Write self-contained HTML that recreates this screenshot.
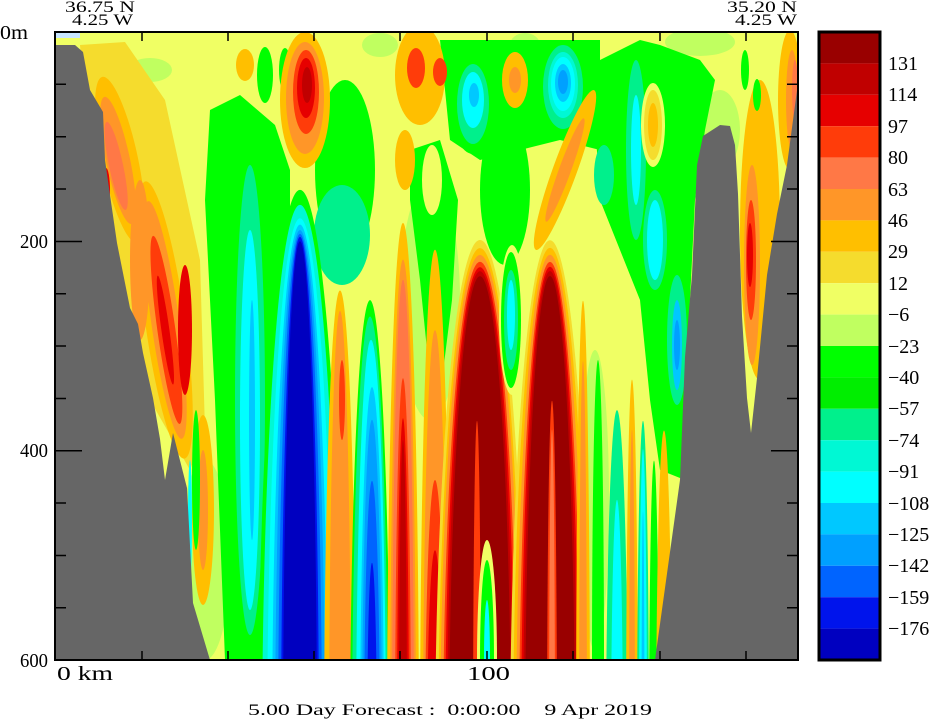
<!DOCTYPE html>
<html><head><meta charset="utf-8"><style>
html,body{margin:0;padding:0;background:#fff;width:943px;height:721px;overflow:hidden;}
#wrap{position:relative;width:943px;height:721px;overflow:hidden;}
svg{display:block;}
text{font-family:"Liberation Serif",serif;fill:#000;}
</style></head><body><div id="wrap">
<svg width="943" height="721" viewBox="0 0 943 721" xmlns="http://www.w3.org/2000/svg" overflow="hidden">
<svg id="plot" x="55" y="32" width="743" height="628" viewBox="55 32 743 628" overflow="hidden">
<rect x="55" y="32" width="743" height="628" fill="#f0ff64"/>
<g fill="#c0ff60">
<ellipse cx="150" cy="70" rx="22" ry="12"/><ellipse cx="380" cy="45" rx="18" ry="12"/>
<ellipse cx="700" cy="42" rx="35" ry="14"/><ellipse cx="525" cy="45" rx="15" ry="12"/>
<ellipse cx="205" cy="560" rx="25" ry="100"/><ellipse cx="595" cy="500" rx="14" ry="150"/>
<ellipse cx="430" cy="300" rx="30" ry="120"/><ellipse cx="720" cy="130" rx="20" ry="40"/>
</g>
<polygon points="80,45 125,42 165,100 200,260 205,430 190,470 150,400 110,250 85,100" fill="#f5dc2d"/>
<g transform="rotate(-12 120 160)"><ellipse cx="120" cy="160" rx="18" ry="85" fill="#ffbf00"/><ellipse cx="118" cy="160" rx="12" ry="65" fill="#ff9628"/><ellipse cx="115" cy="165" rx="7" ry="45" fill="#ff7846"/></g>
<ellipse cx="106" cy="190" rx="4" ry="22" fill="#e60000"/>
<g transform="rotate(-8 165 320)"><ellipse cx="165" cy="320" rx="20" ry="140" fill="#ffbf00"/><ellipse cx="165" cy="320" rx="14" ry="120" fill="#ff9628"/><ellipse cx="165" cy="330" rx="9" ry="95" fill="#ff3c0a"/><ellipse cx="164" cy="330" rx="4" ry="55" fill="#e60000"/></g>
<ellipse cx="140" cy="260" rx="10" ry="80" fill="#ff9628"/>
<ellipse cx="185" cy="330" rx="7" ry="65" fill="#e60000"/>
<ellipse cx="203" cy="510" rx="11" ry="95" fill="#ffbf00"/><ellipse cx="203" cy="510" rx="5" ry="60" fill="#ff9628"/>
<ellipse cx="196" cy="480" rx="4" ry="70" fill="#00ff00"/><ellipse cx="190" cy="520" rx="2" ry="60" fill="#00ffff"/>
<polygon points="210,110 240,95 275,125 290,170 290,660 225,660 215,400 205,200" fill="#00ff00"/>
<ellipse cx="250" cy="400" rx="15" ry="235" fill="#00f08c"/>
<ellipse cx="250" cy="420" rx="10" ry="190" fill="#00ffff"/>
<ellipse cx="252" cy="420" rx="3" ry="120" fill="#00c8ff"/>
<ellipse cx="245" cy="65" rx="9" ry="16" fill="#ffbf00"/>
<g fill="#00ff00"><ellipse cx="265" cy="75" rx="8" ry="28"/><ellipse cx="285" cy="70" rx="6" ry="22"/></g>
<ellipse cx="345" cy="170" rx="30" ry="90" fill="#00ff00"/>
<ellipse cx="342" cy="235" rx="28" ry="50" fill="#00f08c"/>
<ellipse cx="305" cy="100" rx="25" ry="68" fill="#ffbf00"/>
<ellipse cx="305" cy="98" rx="19" ry="56" fill="#ff9628"/>
<ellipse cx="306" cy="92" rx="13" ry="42" fill="#ff3c0a"/>
<ellipse cx="306" cy="88" rx="9" ry="30" fill="#e60000"/>
<ellipse cx="307" cy="85" rx="5" ry="18" fill="#c00000"/>
<ellipse cx="300" cy="760" rx="42" ry="570" fill="#00ff00"/>
<ellipse cx="300" cy="760" rx="38" ry="555" fill="#00f8d4"/>
<ellipse cx="300" cy="760" rx="33" ry="542" fill="#00ffff"/>
<ellipse cx="300" cy="760" rx="28" ry="535" fill="#00c8ff"/>
<ellipse cx="300" cy="760" rx="25" ry="530" fill="#00a0ff"/>
<ellipse cx="300" cy="760" rx="22" ry="526" fill="#0064ff"/>
<ellipse cx="300" cy="760" rx="19" ry="523" fill="#0014ec"/>
<ellipse cx="300" cy="760" rx="17" ry="519" fill="#0000c0"/>
<ellipse cx="340" cy="760" rx="16" ry="470" fill="#ffbf00"/>
<ellipse cx="340" cy="760" rx="11" ry="450" fill="#ff9628"/>
<ellipse cx="342" cy="400" rx="3" ry="40" fill="#ff3c0a"/>
<ellipse cx="370" cy="760" rx="20" ry="460" fill="#00ff00"/>
<ellipse cx="370" cy="760" rx="18" ry="443" fill="#00f08c"/>
<ellipse cx="371" cy="760" rx="15" ry="420" fill="#00ffff"/>
<ellipse cx="372" cy="760" rx="12" ry="373" fill="#00c8ff"/>
<ellipse cx="372" cy="760" rx="10" ry="340" fill="#00a0ff"/>
<ellipse cx="372" cy="760" rx="8" ry="279" fill="#0064ff"/>
<ellipse cx="372" cy="760" rx="5" ry="197" fill="#0014ec"/>
<ellipse cx="403" cy="760" rx="16" ry="537" fill="#ffbf00"/>
<ellipse cx="403" cy="760" rx="13" ry="500" fill="#ff9628"/>
<ellipse cx="403" cy="760" rx="11" ry="480" fill="#ff7846"/>
<ellipse cx="403" cy="760" rx="8" ry="382" fill="#ff3c0a"/>
<ellipse cx="403" cy="760" rx="6" ry="341" fill="#e60000"/>
<ellipse cx="403" cy="760" rx="4" ry="320" fill="#c00000"/>
<polygon points="410,150 440,140 458,200 452,300 442,380 430,380 420,280 410,200" fill="#00ff00"/>
<ellipse cx="505" cy="190" rx="25" ry="75" fill="#00ff00"/>
<polygon points="440,40 600,40 600,150 560,140 520,150 480,160 450,140" fill="#00ff00"/>
<ellipse cx="420" cy="75" rx="25" ry="50" fill="#ffbf00"/>
<ellipse cx="416" cy="68" rx="9" ry="20" fill="#ff3c0a"/>
<ellipse cx="440" cy="72" rx="7" ry="14" fill="#ff3c0a"/>
<ellipse cx="515" cy="80" rx="13" ry="28" fill="#ffbf00"/><ellipse cx="515" cy="80" rx="6" ry="13" fill="#ff9628"/>
<ellipse cx="405" cy="160" rx="10" ry="30" fill="#ffbf00"/>
<ellipse cx="473" cy="104" rx="22" ry="50" fill="#00ff00"/>
<ellipse cx="473" cy="104" rx="16" ry="40" fill="#00f08c"/>
<ellipse cx="473" cy="100" rx="11" ry="28" fill="#00ffff"/>
<ellipse cx="474" cy="95" rx="5" ry="12" fill="#00c8ff"/>
<ellipse cx="563" cy="87" rx="20" ry="42" fill="#00f08c"/>
<ellipse cx="563" cy="85" rx="15" ry="33" fill="#00f8d4"/>
<ellipse cx="563" cy="84" rx="12" ry="27" fill="#00ffff"/>
<ellipse cx="563" cy="83" rx="8" ry="19" fill="#00c8ff"/>
<ellipse cx="563" cy="82" rx="5" ry="12" fill="#00a0ff"/>
<g transform="rotate(20 565 170)"><ellipse cx="565" cy="170" rx="12" ry="85" fill="#ffbf00"/><ellipse cx="565" cy="170" rx="6" ry="55" fill="#ff9628"/></g>
<ellipse cx="432" cy="180" rx="10" ry="35" fill="#f0ff64"/>
<ellipse cx="435" cy="760" rx="15" ry="510" fill="#ffbf00"/>
<ellipse cx="435" cy="760" rx="12" ry="430" fill="#ff9628"/>
<ellipse cx="435" cy="760" rx="10" ry="280" fill="#ff3c0a"/>
<ellipse cx="435" cy="760" rx="8" ry="210" fill="#e60000"/>
<ellipse cx="480" cy="760" rx="45" ry="520" fill="#f5dc2d"/>
<ellipse cx="480" cy="760" rx="42" ry="512" fill="#ffbf00"/>
<ellipse cx="480" cy="760" rx="40" ry="505" fill="#ff9628"/>
<ellipse cx="480" cy="760" rx="37" ry="498" fill="#ff3c0a"/>
<ellipse cx="480" cy="760" rx="35" ry="493" fill="#e60000"/>
<ellipse cx="480" cy="760" rx="33" ry="489" fill="#c00000"/>
<ellipse cx="480" cy="760" rx="31" ry="484" fill="#990000"/>
<ellipse cx="477" cy="760" rx="4" ry="340" fill="#ff3c0a"/>
<ellipse cx="550" cy="760" rx="40" ry="520" fill="#f5dc2d"/>
<ellipse cx="550" cy="760" rx="37" ry="512" fill="#ffbf00"/>
<ellipse cx="550" cy="760" rx="34" ry="505" fill="#ff9628"/>
<ellipse cx="550" cy="760" rx="31" ry="498" fill="#ff3c0a"/>
<ellipse cx="550" cy="760" rx="29" ry="493" fill="#e60000"/>
<ellipse cx="550" cy="760" rx="27" ry="489" fill="#c00000"/>
<ellipse cx="550" cy="760" rx="25" ry="484" fill="#990000"/>
<ellipse cx="552" cy="760" rx="5" ry="360" fill="#ff3c0a"/>
<ellipse cx="552" cy="760" rx="3" ry="330" fill="#ff7846"/>
<ellipse cx="512" cy="320" rx="13" ry="75" fill="#f0ff64"/>
<ellipse cx="511" cy="320" rx="10" ry="68" fill="#00ff00"/>
<ellipse cx="511" cy="320" rx="7" ry="50" fill="#00f08c"/>
<ellipse cx="511" cy="315" rx="4" ry="35" fill="#00ffff"/>
<ellipse cx="487" cy="660" rx="10" ry="120" fill="#f0ff64"/>
<ellipse cx="487" cy="660" rx="7" ry="100" fill="#00ff00"/>
<ellipse cx="487" cy="660" rx="3" ry="60" fill="#00ffff"/>
<ellipse cx="583" cy="760" rx="7" ry="460" fill="#ffbf00"/>
<ellipse cx="583" cy="760" rx="4" ry="400" fill="#ff9628"/>
<polygon points="600,60 640,40 660,45 700,60 715,80 705,130 695,200 690,300 685,480 660,470 650,400 640,300 600,200 595,120" fill="#00ff00"/>
<ellipse cx="598" cy="660" rx="6" ry="300" fill="#00ff00"/>
<ellipse cx="604" cy="175" rx="10" ry="30" fill="#00f08c"/>
<ellipse cx="636" cy="150" rx="10" ry="90" fill="#00f08c"/>
<ellipse cx="636" cy="150" rx="5" ry="55" fill="#00ffff"/>
<ellipse cx="653" cy="125" rx="12" ry="42" fill="#f0ff64"/>
<ellipse cx="653" cy="125" rx="9" ry="35" fill="#f5dc2d"/>
<ellipse cx="653" cy="125" rx="5" ry="22" fill="#ffbf00"/>
<ellipse cx="655" cy="240" rx="12" ry="50" fill="#00f08c"/>
<ellipse cx="655" cy="240" rx="8" ry="40" fill="#00ffff"/>
<ellipse cx="677" cy="340" rx="10" ry="65" fill="#00f08c"/>
<ellipse cx="677" cy="345" rx="5" ry="45" fill="#00c8ff"/>
<ellipse cx="677" cy="345" rx="3" ry="25" fill="#00a0ff"/>
<ellipse cx="617" cy="760" rx="11" ry="350" fill="#00f08c"/>
<ellipse cx="617" cy="760" rx="6" ry="260" fill="#00ffff"/>
<ellipse cx="632" cy="760" rx="6" ry="380" fill="#ffbf00"/>
<ellipse cx="632" cy="760" rx="3" ry="330" fill="#ff9628"/>
<ellipse cx="643" cy="760" rx="6" ry="340" fill="#00f08c"/>
<ellipse cx="643" cy="760" rx="4" ry="310" fill="#00ffff"/>
<ellipse cx="643" cy="760" rx="1.5" ry="250" fill="#00c8ff"/>
<ellipse cx="654" cy="760" rx="5" ry="300" fill="#00ff00"/>
<ellipse cx="664" cy="760" rx="8" ry="330" fill="#ffbf00"/>
<ellipse cx="760" cy="230" rx="20" ry="150" fill="#ffbf00"/>
<ellipse cx="752" cy="265" rx="8" ry="100" fill="#ff9628"/>
<ellipse cx="751" cy="260" rx="5" ry="60" fill="#ff3c0a"/>
<ellipse cx="750" cy="255" rx="3" ry="32" fill="#e60000"/>
<ellipse cx="790" cy="100" rx="12" ry="70" fill="#ffbf00"/>
<ellipse cx="792" cy="100" rx="6" ry="50" fill="#ff9628"/>
<ellipse cx="795" cy="90" rx="3" ry="30" fill="#ff7846"/>
<ellipse cx="745" cy="70" rx="4" ry="20" fill="#00ff00"/>
<ellipse cx="757" cy="95" rx="4" ry="16" fill="#00ff00"/>
<rect x="55" y="33" width="25" height="5" fill="#c8e6ff"/>
<polygon points="55,45 75,45 83,52 90,90 103,112 105,160 110,195 117,243 125,283 130,308 138,324 143,353 153,398 160,439 165,480 173,433 187,488 193,603 210,660 55,660" fill="#666666"/>
<polygon points="655,660 680,480 685,357 692,275 697,165 703,136 720,125 730,126 735,145 738,194 742,316 747,398 751,433 757,378 767,275 777,214 787,165 798,83 798,660" fill="#666666"/>
</svg>
<rect x="55" y="32" width="743" height="628" fill="none" stroke="#000" stroke-width="2"/>
<g stroke="#000" stroke-width="1.5">
<path d="M142,32v9M228,32v9M314,32v9M400,32v9M487,32v9M573,32v9M660,32v9M746,32v9"/>
<path d="M142,660v-9M228,660v-9M314,660v-9M400,660v-9M487,660v-9M573,660v-9M660,660v-9M746,660v-9"/>
<path d="M55,84.3h11M55,136.7h11M55,189h11M55,241.5h27M55,293.8h11M55,346h11M55,398.5h11M55,450.8h27M55,503h11M55,555.5h11M55,607.8h11"/>
<path d="M798,84.3h-11M798,136.7h-11M798,189h-11M798,241.5h-27M798,293.8h-11M798,346h-11M798,398.5h-11M798,450.8h-27M798,503h-11M798,555.5h-11M798,607.8h-11"/>
</g>
<g>
<rect x="819" y="32" width="61" height="31.4" fill="#990000"/>
<rect x="819" y="63.4" width="61" height="31.4" fill="#c00000"/>
<rect x="819" y="94.8" width="61" height="31.4" fill="#e60000"/>
<rect x="819" y="126.2" width="61" height="31.4" fill="#ff3c0a"/>
<rect x="819" y="157.6" width="61" height="31.4" fill="#ff7846"/>
<rect x="819" y="189" width="61" height="31.4" fill="#ff9628"/>
<rect x="819" y="220.4" width="61" height="31.4" fill="#ffbf00"/>
<rect x="819" y="251.8" width="61" height="31.4" fill="#f5dc2d"/>
<rect x="819" y="283.2" width="61" height="31.4" fill="#f0ff64"/>
<rect x="819" y="314.6" width="61" height="31.4" fill="#c0ff60"/>
<rect x="819" y="346" width="61" height="31.4" fill="#00ff00"/>
<rect x="819" y="377.4" width="61" height="31.4" fill="#00ee00"/>
<rect x="819" y="408.8" width="61" height="31.4" fill="#00f08c"/>
<rect x="819" y="440.2" width="61" height="31.4" fill="#00f8d4"/>
<rect x="819" y="471.6" width="61" height="31.4" fill="#00ffff"/>
<rect x="819" y="503" width="61" height="31.4" fill="#00c8ff"/>
<rect x="819" y="534.4" width="61" height="31.4" fill="#00a0ff"/>
<rect x="819" y="565.8" width="61" height="31.4" fill="#0064ff"/>
<rect x="819" y="597.2" width="61" height="31.4" fill="#0014ec"/>
<rect x="819" y="628.6" width="61" height="31.4" fill="#0000c0"/>
<rect x="819" y="32" width="61" height="628" fill="none" stroke="#000" stroke-width="3"/>
</g>
<g font-size="20">
<text x="888" y="70">131</text><text x="888" y="101">114</text><text x="888" y="133">97</text>
<text x="888" y="164">80</text><text x="888" y="196">63</text><text x="888" y="227">46</text>
<text x="888" y="258">29</text><text x="888" y="290">12</text><text x="888" y="321">−6</text>
<text x="888" y="353">−23</text><text x="888" y="384">−40</text><text x="888" y="415">−57</text>
<text x="888" y="447">−74</text><text x="888" y="478">−91</text><text x="888" y="510">−108</text>
<text x="888" y="541">−125</text><text x="888" y="572">−142</text><text x="888" y="604">−159</text>
<text x="888" y="635">−176</text>
<text x="0" y="39" textLength="28" lengthAdjust="spacingAndGlyphs">0m</text>
<text x="20" y="248" textLength="28" lengthAdjust="spacingAndGlyphs">200</text>
<text x="20" y="457" textLength="28" lengthAdjust="spacingAndGlyphs">400</text>
<text x="20" y="667" textLength="28" lengthAdjust="spacingAndGlyphs">600</text>
<text x="57" y="680" textLength="56" lengthAdjust="spacingAndGlyphs">0 km</text>
<text x="467" y="680" textLength="43" lengthAdjust="spacingAndGlyphs">100</text>
</g>
<g font-size="16">
<text x="65" y="12" textLength="70" lengthAdjust="spacingAndGlyphs">36.75 N</text>
<text x="72" y="25" textLength="61" lengthAdjust="spacingAndGlyphs">4.25 W</text>
<text x="727" y="12" textLength="70" lengthAdjust="spacingAndGlyphs">35.20 N</text>
<text x="735" y="25" textLength="62" lengthAdjust="spacingAndGlyphs">4.25 W</text>
<text x="248" y="715" textLength="404" lengthAdjust="spacingAndGlyphs" xml:space="preserve">5.00 Day Forecast :  0:00:00    9 Apr 2019</text>
</g>
</svg>
</div>
<script>
(function(){
var NS="http://www.w3.org/2000/svg",B=660;
var els=document.querySelectorAll("#plot ellipse");
for(var i=0;i<els.length;i++){
 var e=els[i];
 if(e.parentNode.getAttribute("transform"))continue;
 var cx=+e.getAttribute("cx"),cy=+e.getAttribute("cy"),rx=+e.getAttribute("rx"),ry=+e.getAttribute("ry");
 if(cy+ry<=B)continue;
 var dy=B-cy,w=rx*Math.sqrt(Math.max(0,1-(dy*dy)/(ry*ry)));
 var large=cy<B?1:0;
 var p=document.createElementNS(NS,"path");
 p.setAttribute("d","M"+(cx-w).toFixed(2)+","+B+" A"+rx+","+ry+" 0 "+large+" 1 "+(cx+w).toFixed(2)+","+B+" Z");
 var f=e.getAttribute("fill");if(f)p.setAttribute("fill",f);
 e.parentNode.replaceChild(p,e);
}
})();
</script>
</body></html>
